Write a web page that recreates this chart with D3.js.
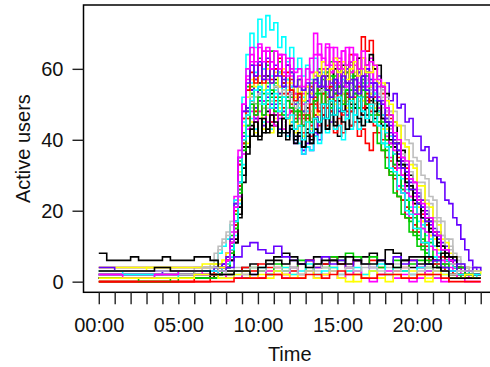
<!DOCTYPE html>
<html>
<head>
<meta charset="utf-8">
<script src="https://cdn.jsdelivr.net/npm/d3@7"></script>
<style>
  html, body { margin: 0; padding: 0; background: #fff; overflow: hidden; }
  svg { display: block; }
  text { font-family: "Liberation Sans", Arial, Helvetica, sans-serif; }
</style>
</head>
<body>
<svg id="chart" width="490" height="367"></svg>
<script>
// Sampling times (hours of the day) for the busy sessions: hourly overnight, then every 15 minutes
const highHours = [0,1,2,3,4,5,6,
  7,7.25,7.5,7.75, 8,8.25,8.5,8.75, 9,9.25,9.5,9.75, 10,10.25,10.5,10.75,
  11,11.25,11.5,11.75, 12,12.25,12.5,12.75, 13,13.25,13.5,13.75, 14,14.25,14.5,14.75,
  15,15.25,15.5,15.75, 16,16.25,16.5,16.75, 17,17.25,17.5,17.75, 18,18.25,18.5,18.75,
  19,19.25,19.5,19.75, 20,20.25,20.5,20.75, 21,21.25,21.5,21.75, 22,22.25,22.5,22.75,
  23,23.25,23.5,23.75, 24];

// Sampling times for the quiet sessions: every 30 minutes
const lowHours = [0,0.5,1,1.5,2,2.5,3,3.5,4,4.5,5,5.5,6,6.5,7,7.5,8,8.5,9,9.5,10,10.5,11,11.5,
  12,12.5,13,13.5,14,14.5,15,15.5,16,16.5,17,17.5,18,18.5,19,19.5,20,20.5,21,21.5,22,22.5,23,23.5,24];

// Active users per busy session
const s00 = [2,2,2,2,2,2,3, 3,3,3,4, 5,7,11,18, 28,36,41,46, 40,47,43,49, 44,50,42,46, 48,41,44,38, 43,39,46,42, 47,43,50,45, 41,48,51,44, 49,45,52,47, 51,46,50,47, 44,43,38,37, 33,31,26,25, 22,21,17,17, 14,13,9,8, 6,5,4,3, 3,2,2,2, 2];
const s01 = [1,1,1,1,1,1,1, 2,2,3,4, 6,10,17,27, 38,47,52,57, 51,58,54,60, 55,50,58,53, 57,49,53,46, 51,55,47,54, 58,53,60,56, 62,55,59,64, 58,63,69,65, 68,60,56,53, 47,46,40,39, 34,32,27,26, 22,21,16,15, 13,10,9,6, 6,4,4,3, 3,3,2,2, 2];
const s02 = [3,3,3,3,3,3,3, 3,4,4,5, 8,13,22,34, 46,55,61,58, 63,57,61,65, 58,62,56,61, 59,53,57,51, 55,50,57,60, 54,59,62,55, 60,56,61,57, 53,60,56,58, 55,56,49,46, 40,38,32,30, 25,23,18,18, 13,12,8,7, 5,4,3,3, 2,2,2,2, 1,1,1,1, 1];
const s03 = [2,2,2,2,2,3,3, 3,3,4,4, 5,8,14,24, 36,44,50,46, 51,44,49,45, 50,43,47,41, 45,39,41,36, 38,37,42,40, 46,50,45,51, 48,53,47,52, 55,49,54,51, 56,52,58,54, 56,51,53,49, 50,45,46,41, 41,37,38,34, 35,29,28,23, 22,18,16,12, 9,6,4,3, 3];
const s04 = [2,2,2,2,2,2,2, 3,3,4,5, 7,12,21,35, 52,64,70,66, 74,69,75,71, 73,66,69,62, 66,60,63,58, 61,57,63,56, 59,53,58,55, 51,57,53,58, 54,59,52,56, 57,51,50,46, 45,40,39,34, 33,28,27,23, 22,18,18,14, 13,10,9,6, 6,4,4,3, 3,3,2,2, 2];
const s05 = [1,1,1,1,1,1,2, 2,3,3,4, 6,11,20,33, 48,58,64,61, 66,60,65,62, 58,64,59,63, 60,55,58,53, 57,63,70,64, 62,67,61,66, 63,60,66,61, 64,59,63,57, 63,57,55,50, 48,43,41,36, 35,30,29,24, 23,19,18,14, 12,10,7,6, 5,4,3,3, 2,2,2,2, 2];
const s06 = [4,4,4,4,4,4,4, 4,5,5,6, 8,12,19,28, 39,46,52,48, 54,47,52,56, 48,53,46,54, 50,46,51,44, 49,45,51,48, 55,50,57,52, 58,53,56,51, 59,54,57,53, 55,50,51,46, 45,40,39,34, 33,28,27,22, 22,17,17,13, 12,9,8,6, 5,4,4,3, 3,2,2,2, 2];
const s07 = [3,3,3,3,3,3,4, 5,8,10,12, 14,17,23,31, 41,48,53,50, 55,51,54,50, 56,52,54,49, 53,48,51,47, 50,46,52,49, 54,51,55,52, 56,51,54,52, 53,56,51,55, 52,56,53,54, 49,48,44,44, 39,38,34,33, 28,28,23,22, 18,17,13,12, 10,7,6,4, 4,4,3,3, 3];
const s08 = [2,2,2,2,2,2,2, 2,3,3,4, 5,9,16,26, 38,47,54,50, 56,51,58,53, 57,50,55,52, 53,47,50,44, 49,45,51,55, 53,58,54,60, 55,61,56,62, 57,63,58,61, 64,60,61,55, 53,47,45,39, 37,31,30,25, 24,20,19,15, 14,11,10,7, 6,5,4,3, 3,2,2,2, 2];
const s09 = [0,0,0,0,0,0,1, 1,1,2,3, 5,9,17,28, 40,47,51,47, 52,46,50,45, 51,47,53,46, 48,43,47,42, 45,41,47,44, 49,44,47,42, 46,42,48,44, 45,41,43,39, 37,42,45,40, 40,34,32,27, 26,21,20,16, 15,11,11,7, 6,5,4,3, 3,2,2,1, 1,1,1,1, 1];
const s10 = [1,1,1,1,1,1,1, 1,2,2,3, 5,8,15,26, 39,48,55,52, 58,53,57,51, 56,59,52,57, 54,50,55,48, 53,56,50,55, 57,52,58,53, 51,56,54,59, 55,51,57,52, 53,47,45,39, 37,31,30,24, 23,18,17,13, 12,9,8,5, 5,4,3,3, 2,2,2,2, 1,1,1,1, 1];
const s11 = [3,3,3,3,3,3,3, 3,4,4,5, 6,9,16,27, 40,48,53,49, 52,47,55,50, 49,46,48,42, 44,40,41,37, 39,43,41,47, 50,54,52,57, 55,59,53,57, 53,58,54,59, 57,52,52,47, 46,42,41,36, 35,30,29,25, 25,21,20,16, 15,12,11,8, 7,5,4,4, 3,3,2,2, 2];
const s12 = [2,2,2,2,2,2,2, 2,2,3,3, 4,7,13,22, 33,41,46,43, 50,45,49,43, 48,42,47,41, 45,40,39,36, 38,37,41,39, 46,42,47,43, 44,40,46,43, 47,43,48,45, 47,49,44,44, 39,38,33,32, 27,26,21,21, 17,16,13,12, 10,8,7,6, 5,4,3,3, 2,2,2,2, 2];
const s13 = [2,2,2,2,2,2,2, 3,3,4,5, 8,14,24,37, 50,57,62,58, 61,65,57,62, 60,64,56,61, 58,53,55,50, 55,59,58,64, 60,66,59,63, 61,65,59,62, 64,58,63,60, 59,52,49,43, 41,35,33,27, 25,19,18,14, 14,10,9,6, 5,4,3,3, 2,2,2,2, 2,1,1,1, 1];
const s14 = [1,1,1,1,1,2,2, 2,3,3,4, 5,8,14,23, 32,39,45,42, 48,43,47,42, 46,49,43,47, 44,42,46,41, 45,43,49,47, 53,49,54,50, 55,51,49,54, 50,55,51,49, 53,49,48,43, 43,38,37,33, 32,27,26,22, 21,17,17,13, 12,9,9,6, 6,4,4,3, 3,2,2,2, 2];
const s15 = [2,2,2,2,2,2,2, 3,3,4,4, 6,9,15,25, 36,44,49,52, 50,54,49,52, 48,53,50,55, 49,47,50,45, 48,46,52,50, 54,51,55,53, 52,56,53,55, 52,55,54,57, 52,55,56,52, 52,48,48,44, 44,40,39,35, 34,30,29,24, 23,18,17,12, 12,8,7,5, 4,3,3,3, 3];
const s16 = [1,1,1,1,1,1,1, 1,2,2,3, 4,6,11,19, 30,38,44,41, 46,42,48,44, 47,42,46,40, 44,40,42,38, 41,39,43,42, 47,43,48,44, 49,45,43,48, 50,46,44,49, 45,50,48,44, 44,39,38,33, 32,27,26,22, 22,18,18,14, 14,10,10,6, 6,4,4,3, 3,2,2,2, 2];
const s17 = [1,1,1,1,1,1,1, 2,2,3,3, 5,9,16,27, 39,46,51,48, 54,49,53,47, 52,55,49,53, 50,46,48,44, 47,44,50,48, 47,52,48,53, 51,47,52,48, 53,49,47,52, 48,52,47,47, 42,41,36,35, 30,29,24,23, 19,19,14,14, 10,10,7,6, 5,4,3,3, 2,2,2,2, 2];
const s18 = [2,2,2,2,2,2,3, 3,3,4,5, 7,11,19,30, 42,49,53,50, 54,50,56,52, 55,51,56,52, 52,48,53,47, 51,54,53,58, 55,59,54,58, 60,55,59,54, 58,60,55,59, 54,53,47,45, 40,38,33,32, 26,25,20,19, 15,15,11,11, 7,7,5,4, 3,3,2,2, 2,2,1,1, 1];
const s19 = [4,4,4,4,4,4,4, 4,4,5,5, 6,10,17,28, 41,49,54,57, 53,58,52,56, 58,53,57,51, 55,50,52,48, 51,54,56,59, 55,60,56,54, 59,55,60,56, 54,59,55,60, 56,56,52,51, 46,45,40,39, 34,33,28,28, 24,23,19,18, 14,14,10,10, 6,6,5,4, 4,3,3,3, 3];
const s20 = [3,3,3,3,2,2,2, 3,5,8,10, 12,16,23,33, 45,52,56,59, 55,60,53,58, 54,59,52,57, 55,51,49,52, 48,52,49,53, 54,50,55,51, 49,54,50,48, 53,49,54,50, 49,53,48,47, 42,41,36,34, 29,28,23,23, 19,18,14,14, 10,10,6,6, 5,4,3,3, 3,2,2,2, 2];
const s21 = [1,1,1,1,1,1,1, 2,2,3,3, 4,8,14,24, 36,43,48,45, 48,51,45,49, 44,48,43,47, 49,45,46,44, 50,53,56,55, 60,55,59,61, 56,60,55,59, 61,56,60,55, 59,54,52,46, 45,39,37,32, 30,25,24,19, 19,15,14,10, 9,7,6,5, 4,3,3,2, 2,2,2,2, 2];
const s22 = [3,3,3,4,4,4,4, 4,5,5,6, 8,12,20,31, 44,52,57,55, 58,54,60,56, 59,55,60,56, 56,52,57,51, 55,53,59,58, 62,57,60,63, 59,62,57,60, 62,58,63,59, 59,61,56,56, 51,50,45,44, 39,38,33,32, 27,27,22,21, 17,16,12,11, 8,7,5,4, 4,3,3,3, 3];
const s23 = [2,2,2,2,2,2,3, 4,6,9,11, 13,16,22,30, 40,47,52,50, 53,49,54,51, 55,50,54,49, 53,49,50,47, 50,48,52,50, 54,51,55,52, 50,54,51,55, 53,51,54,50, 54,50,53,49, 48,43,42,37, 36,31,31,26, 26,21,21,17, 17,13,13,9, 9,6,5,4, 4,3,3,3, 3];
const s24 = [1,1,1,1,1,1,1, 2,2,2,3, 4,6,12,21, 32,38,43,45, 41,46,42,47, 45,41,46,42, 43,39,41,38, 42,40,46,45, 50,46,51,47, 51,48,53,50, 49,52,47,50, 52,48,51,46, 45,40,39,34, 33,28,27,23, 23,18,18,14, 14,10,10,7, 7,5,4,3, 3,3,2,2, 2];
const s25 = [2,2,2,2,2,2,2, 2,3,3,4, 6,11,20,33, 46,54,59,56, 61,56,62,57, 60,63,56,59, 54,51,53,47, 46,50,52,48, 53,49,55,51, 55,50,53,48, 52,55,49,53, 50,44,42,37, 35,30,29,24, 23,18,18,14, 14,10,10,6, 6,5,4,3, 3,2,2,2, 1,1,1,1, 1];
const s26 = [0,0,0,0,0,1,1, 1,1,2,3, 4,8,15,25, 37,44,50,47, 52,47,51,54, 48,52,47,51, 49,45,48,44, 47,45,51,53, 50,54,49,53, 55,50,54,49, 53,49,54,50, 47,45,39,37, 32,30,25,24, 19,18,14,14, 10,10,6,6, 5,4,3,3, 2,2,2,1, 1,1,1,1, 1];
const s27 = [2,2,2,2,3,3,3, 3,4,4,5, 7,12,22,35, 48,56,61,58, 62,57,63,56, 61,58,55,61, 59,55,57,54, 56,52,57,55, 58,54,52,57, 53,58,56,52, 57,53,58,54, 52,56,51,50, 45,44,39,37, 32,31,26,26, 22,21,17,17, 13,13,9,9, 6,6,4,3, 3,3,2,2, 2];
const s28 = [2,2,2,2,2,2,2, 3,3,3,4, 5,9,17,28, 40,47,51,54, 55,50,54,49, 53,48,52,46, 47,43,44,40, 45,42,46,45, 50,46,51,47, 52,48,46,51, 47,52,48,46, 50,45,44,39, 38,32,31,26, 25,20,19,15, 15,11,11,7, 7,5,4,4, 3,3,2,2, 2,2,2,1, 1];
const s29 = [2,2,2,2,2,2,2, 3,3,4,4, 6,11,21,35, 50,60,66,62, 67,62,66,60, 65,60,64,58, 63,59,60,55, 60,59,64,67, 63,61,66,62, 60,65,61,66, 64,60,65,61, 62,61,57,55, 49,47,42,40, 35,34,29,28, 23,22,18,18, 14,13,9,9, 6,5,4,3, 3,3,2,2, 2];

// Active users per quiet session
const s30 = [4,4, 4,4, 4,4, 4,4, 4,3, 3,3, 3,5, 5,4, 3,3, 2,3, 1,3, 2,4, 2,1, 3,1, 2,4, 1,3, 0,2, 3,1, 2,4, 3,1, 2,0, 1,3, 2,1, 2,3, 2];
const s31 = [2,2, 2,2, 2,2, 2,2, 2,2, 2,2, 2,2, 3,3, 3,4, 2,3, 4,2, 3,5, 3,2, 4,3, 2,4, 5,3, 2,4, 3,2, 4,5, 3,2, 3,4, 2,3, 5,3, 2,4, 3];
const s32 = [8,6, 6,6, 7,6, 6,6, 7,6, 6,6, 7,7, 6,3, 3,3, 4,5, 3,6, 7,8, 7,5, 6,7, 5,6, 7,5, 6,7, 8,6, 9,8, 6,4, 5,7, 6,8, 7,4, 2,1, 1];
const s33 = [0,0, 0,0, 0,0, 0,0, 0,0, 0,0, 0,0, 1,1, 2,3, 4,3, 5,4, 4,2, 3,5, 6,4, 5,7, 5,4, 6,5, 6,4, 5,3, 4,6, 4,2, 5,3, 1,2, 1,1, 1];
const s34 = [1,1, 1,1, 1,0, 0,0, 0,1, 1,1, 1,1, 1,2, 2,3, 1,4, 3,2, 5,3, 4,6, 3,5, 4,7, 6,8, 7,5, 7,4, 5,6, 3,5, 6,4, 3,5, 2,4, 2,2, 2];
const s35 = [4,4, 3,3, 3,3, 3,3, 3,3, 3,3, 3,3, 3,3, 4,7, 10,11, 9,8, 10,7, 6,5, 6,4, 7,5, 6,4, 6,5, 4,6, 5,7, 5,6, 4,5, 6,4, 3,5, 3,4, 3];
const s36 = [3,3, 3,2, 2,2, 2,1, 1,1, 3,3, 3,3, 3,1, 1,2, 3,2, 4,2, 3,4, 2,3, 5,2, 3,4, 2,3, 4,2, 3,5, 2,4, 3,2, 4,3, 1,2, 3,2, 2,2, 2];
const s37 = [2,2, 2,1, 1,1, 1,2, 2,2, 3,3, 3,2, 2,2, 1,1, 3,2, 1,3, 2,1, 4,2, 3,1, 2,3, 1,2, 3,1, 0,2, 3,1, 2,0, 1,3, 1,0, 2,1, 0,0, 0];
const s38 = [1,1, 1,1, 1,1, 1,1, 1,1, 1,1, 2,2, 2,1, 1,2, 3,1, 2,1, 3,2, 1,2, 3,1, 2,3, 1,0, 2,1, 3,1, 0,2, 1,3, 2,1, 3,2, 1,1, 2,1, 1];
const s39 = [3,3, 3,3, 3,3, 3,3, 3,3, 3,3, 3,4, 4,3, 2,3, 2,4, 3,5, 4,3, 4,2, 3,5, 4,3, 2,4, 3,5, 4,3, 2,3, 4,2, 3,4, 3,3, 2,3, 3,3, 3];
const s40 = [3,3, 3,3, 3,3, 3,4, 4,3, 3,3, 3,3, 2,2, 2,3, 3,2, 4,5, 6,5, 6,5, 4,5, 6,6, 5,7, 6,5, 5,6, 5,4, 6,7, 7,5, 4,3, 1,1, 1,1, 1];
const s41 = [0,0, 0,0, 0,0, 0,0, 0,0, 0,0, 0,0, 0,0, 0,1, 1,1, 1,2, 2,1, 1,1, 2,2, 1,2, 3,2, 2,1, 1,2, 2,2, 1,1, 2,2, 2,1, 0,0, 0,0, 0];

const busySessions = [s00,s01,s02,s03,s04,s05,s06,s07,s08,s09,s10,s11,s12,s13,s14,s15,
  s16,s17,s18,s19,s20,s21,s22,s23,s24,s25,s26,s27,s28,s29];
const quietSessions = [s30,s31,s32,s33,s34,s35,s36,s37,s38,s39,s40,s41];

// Line colours, recycled across sessions in order
const palette = ["#000000","#FF0000","#00CD00","#6600FF","#00FFFF","#FF00FF","#FFFF00","#BEBEBE"];

// Axis ticks and labels
const yTicks = [0, 20, 40, 60];
const xTicks = [0,1,2,3,4,5,6,7,8,9,10,11,12,13,14,15,16,17,18,19,20,21,22,23,24];
const xLabelHours = [0, 5, 10, 15, 20];
const xLabelText = ["00:00", "05:00", "10:00", "15:00", "20:00"];
const xTitle = "Time";
const yTitle = "Active users";

const svg = d3.select("#chart");

// Plot region, padded 4% beyond the data range on each side
const x = d3.scaleLinear().domain([-0.96, 24.96]).range([83.5, 496]);
const y = d3.scaleLinear().domain([-3, 78]).range([292.3, 5]);

svg.append("defs").append("clipPath").attr("id", "plotArea")
  .append("rect")
  .attr("x", x(-0.96)).attr("y", y(78))
  .attr("width", x(24.96) - x(-0.96)).attr("height", y(-3) - y(78));

const sessions = busySessions.map(v => ({ hours: highHours, values: v }))
  .concat(quietSessions.map(v => ({ hours: lowHours, values: v })));

const line = d3.line()
  .x(d => x(d[0]))
  .y(d => y(d[1]))
  .curve(d3.curveStepAfter);

svg.append("g").attr("clip-path", "url(#plotArea)")
  .selectAll("path")
  .data(sessions)
  .join("path")
  .attr("fill", "none")
  .attr("stroke", (d, i) => palette[i % palette.length])
  .attr("stroke-width", 1.6)
  .attr("d", d => line(d.hours.map((h, k) => [h, d.values[k]]).filter(p => p[1] !== undefined)));

// Frame around the plot region
svg.append("rect")
  .attr("x", x(-0.96)).attr("y", y(78))
  .attr("width", x(24.96) - x(-0.96)).attr("height", y(-3) - y(78))
  .attr("fill", "none").attr("stroke", "#000").attr("stroke-width", 1.5);

// Y axis
const yAxis = svg.append("g")
  .attr("transform", `translate(${x(-0.96)},0)`)
  .call(d3.axisLeft(y).tickValues(yTicks).tickSize(11).tickPadding(9).tickSizeOuter(0));
yAxis.select(".domain").remove();
yAxis.selectAll(".tick line").attr("stroke", "#222").attr("stroke-width", 1.4);
yAxis.selectAll(".tick text").attr("font-size", 20).attr("fill", "#111")
  .attr("font-family", "'Liberation Sans', Arial, Helvetica, sans-serif");

// X axis: hourly ticks, labelled every five hours
const labelFor = h => {
  const k = xLabelHours.indexOf(h);
  return k >= 0 ? xLabelText[k] : "";
};
const xAxis = svg.append("g")
  .attr("transform", `translate(0,${y(-3)})`)
  .call(d3.axisBottom(x).tickValues(xTicks).tickFormat(labelFor).tickSize(12).tickPadding(14).tickSizeOuter(0));
xAxis.select(".domain").remove();
xAxis.selectAll(".tick line").attr("stroke", "#222").attr("stroke-width", 1.4);
xAxis.selectAll(".tick text").attr("font-size", 20).attr("fill", "#111")
  .attr("font-family", "'Liberation Sans', Arial, Helvetica, sans-serif");

// Axis titles
svg.append("text")
  .attr("x", (x(-0.96) + x(24.96)) / 2).attr("y", 360.8)
  .attr("text-anchor", "middle").attr("font-size", 20).attr("fill", "#111")
  .text(xTitle);

svg.append("text")
  .attr("transform", `translate(29.5,${(y(78) + y(-3)) / 2}) rotate(-90)`)
  .attr("text-anchor", "middle").attr("font-size", 20).attr("fill", "#111")
  .text(yTitle);
</script>
</body>
</html>
